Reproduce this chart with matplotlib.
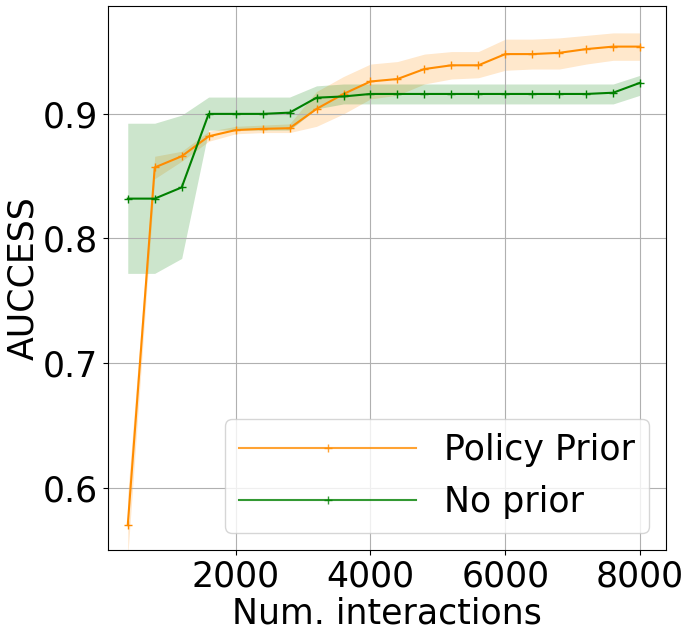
import matplotlib
matplotlib.use("Agg")
import matplotlib.pyplot as plt
import numpy as np

interactions = [400, 800, 1200, 1600, 2000, 2400, 2800, 3200, 3600, 4000,
                4400, 4800, 5200, 5600, 6000, 6400, 6800, 7200, 7600, 8000]

# Policy Prior: mean and band
prior_mean = [0.570, 0.857, 0.866, 0.882, 0.887, 0.888, 0.8885, 0.904, 0.916, 0.926,
              0.928, 0.936, 0.939, 0.939, 0.948, 0.948, 0.949, 0.952, 0.954, 0.954]
prior_hi = [0.595, 0.866, 0.870, 0.886, 0.890, 0.891, 0.892, 0.918, 0.930, 0.940,
            0.942, 0.948, 0.950, 0.950, 0.960, 0.960, 0.961, 0.963, 0.965, 0.965]
prior_lo = [0.545, 0.848, 0.862, 0.878, 0.884, 0.885, 0.885, 0.890, 0.900, 0.912,
            0.915, 0.924, 0.928, 0.929, 0.935, 0.936, 0.936, 0.940, 0.943, 0.943]

# No prior: mean and band
none_mean = [0.832, 0.832, 0.841, 0.900, 0.900, 0.900, 0.901, 0.913, 0.914, 0.916,
             0.916, 0.916, 0.916, 0.916, 0.916, 0.916, 0.916, 0.916, 0.917, 0.925]
none_hi = [0.8925, 0.8925, 0.899, 0.9135, 0.9135, 0.9135, 0.9135, 0.9225, 0.924, 0.924,
           0.924, 0.924, 0.924, 0.924, 0.924, 0.924, 0.924, 0.924, 0.924, 0.931]
none_lo = [0.772, 0.772, 0.784, 0.887, 0.887, 0.887, 0.887, 0.904, 0.908, 0.908,
           0.908, 0.908, 0.908, 0.908, 0.908, 0.908, 0.908, 0.908, 0.908, 0.915]

plt.rcParams['font.size'] = 25

fig = plt.figure(figsize=(6.91, 6.37), dpi=100)
ax = fig.add_axes([0.156, 0.1366, 0.808, 0.854])

l1, = ax.plot(interactions, prior_mean, color='darkorange', marker='+', markersize=6, lw=1.5)
ax.fill_between(interactions, prior_lo, prior_hi, color='darkorange', alpha=0.2, lw=0)
l2, = ax.plot(interactions, none_mean, color='green', marker='+', markersize=6, lw=1.5)
ax.fill_between(interactions, none_lo, none_hi, color='green', alpha=0.2, lw=0)

ax.set_xlim(104, 8385)
ax.set_ylim(0.550, 0.9866)
ax.set_xticks([2000, 4000, 6000, 8000])
ax.set_yticks([0.6, 0.7, 0.8, 0.9])
ax.grid(True)
ax.set_xlabel("Num. interactions", labelpad=2)
ax.set_ylabel("AUCCESS", labelpad=2)

leg = ax.legend([l1, l2], ["Policy Prior", "No prior"], loc='lower right', handlelength=5.1)
for h in leg.get_lines():
    h.set_alpha(0.8)

fig.savefig("out.png", dpi=100)
